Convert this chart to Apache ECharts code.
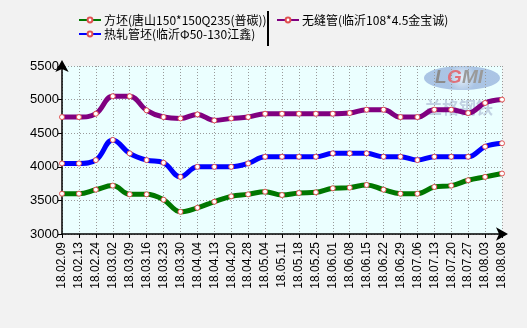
<!DOCTYPE html>
<html>
<head>
<meta charset="utf-8">
<script src="https://cdn.jsdelivr.net/npm/echarts@6/dist/echarts.min.js"></script>
<style>
  html, body { margin: 0; padding: 0; background: #f2f2f2; }
  #chart { width: 527px; height: 328px; }
</style>
</head>
<body>
<div id="chart"></div>
<script>
// Weekly price dates
var categories = ['18.02.09','18.02.13','18.02.24','18.03.02','18.03.09','18.03.16','18.03.23','18.03.30',
  '18.04.04','18.04.13','18.04.20','18.04.28','18.05.04','18.05.11','18.05.18','18.05.25','18.06.01',
  '18.06.08','18.06.15','18.06.22','18.06.29','18.07.06','18.07.13','18.07.20','18.07.27','18.08.03','18.08.08'];

// Series names
var nameBillet = '方坯(唐山150*150Q235(普碳))';
var nameTubeBillet = '热轧管坯(临沂Φ50-130江鑫)';
var nameSeamless = '无缝管(临沂108*4.5金宝诚)';

// Prices (yuan/ton)
var billet = [3600,3600,3660,3720,3590,3590,3510,3330,3390,3480,3560,3590,3630,3580,3610,3620,3680,3690,
  3730,3660,3600,3600,3700,3720,3800,3850,3900];
var tubeBillet = [4050,4050,4100,4400,4200,4100,4060,3850,4000,4000,4000,4050,4150,4150,4150,4150,4200,4200,
  4200,4150,4150,4100,4150,4150,4150,4300,4350];
var seamless = [4740,4740,4790,5050,5050,4840,4740,4720,4780,4690,4720,4740,4790,4790,4790,4790,4790,4800,
  4850,4850,4740,4740,4850,4850,4800,4950,5000];

// Y axis range and step
var yMin = 3000, yMax = 5500, yStep = 500;

var chart = echarts.init(document.getElementById('chart'), null, { renderer: 'canvas' });

function lineSeries(name, data, color) {
  return {
    name: name,
    type: 'line',
    data: data,
    smooth: 0.4,
    symbol: 'circle',
    symbolSize: 5,
    showAllSymbol: true,
    lineStyle: { color: color, width: 5 },
    itemStyle: { color: '#ffffff', borderColor: '#e05050', borderWidth: 1 },
    emphasis: { disabled: true },
    z: 3
  };
}

var legendText = { fontFamily: '"Noto Sans CJK SC", sans-serif', fontSize: 12, color: '#000', padding: [0, 0, 0, -2] };
var gridLine = { show: true, lineStyle: { color: '#9a9a9a', type: [1, 2], width: 1 } };

chart.setOption({
  animation: false,
  backgroundColor: '#f2f2f2',
  color: ['#007700', '#0000ff', '#800080'],
  legend: [
    {
      data: [nameBillet, nameTubeBillet],
      orient: 'vertical',
      left: 73, top: 9,
      itemWidth: 22, itemHeight: 6, itemGap: 2,
      textStyle: legendText
    },
    {
      data: [nameSeamless],
      orient: 'vertical',
      left: 271, top: 9,
      itemWidth: 22, itemHeight: 6,
      textStyle: legendText
    }
  ],
  grid: { left: 62, right: 25, top: 66, bottom: 94, show: true, backgroundColor: '#ebffff', borderWidth: 0 },
  xAxis: {
    type: 'category',
    data: categories,
    boundaryGap: false,
    axisLine: { lineStyle: { color: '#000', width: 1.5 }, symbol: ['none', 'arrow'], symbolSize: [10, 12], symbolOffset: [0, 6] },
    axisTick: { show: true, alignWithLabel: true, length: 4, lineStyle: { color: '#000' } },
    axisLabel: { rotate: 90, fontFamily: '"Liberation Sans", Arial, sans-serif', fontSize: 12, color: '#000', margin: 8, interval: 0 },
    splitLine: gridLine
  },
  yAxis: {
    type: 'value',
    min: yMin, max: yMax, interval: yStep,
    axisLine: { show: true, lineStyle: { color: '#000', width: 1.5 }, symbol: ['none', 'arrow'], symbolSize: [10, 12], symbolOffset: [0, 6] },
    axisTick: { show: true, length: 4, lineStyle: { color: '#000' } },
    axisLabel: { fontFamily: '"Liberation Sans", Arial, sans-serif', fontSize: 13, color: '#000', margin: 3,
      formatter: function (v) { return String(v); } },
    splitLine: gridLine
  },
  graphic: [
    // legend column separator
    { type: 'line', shape: { x1: 268, y1: 11, x2: 268, y2: 46 }, style: { stroke: '#000', lineWidth: 2 }, z: 10 },
    // watermark logo
    {
      type: 'group', left: 424, top: 66, z: 1, silent: true,
      children: [
        { type: 'ellipse', shape: { cx: 39, cy: 12, rx: 38, ry: 12 },
          style: { fill: new echarts.graphic.RadialGradient(0.5, 0.5, 0.6, [
            { offset: 0, color: '#e4ecf8' }, { offset: 1, color: '#9ab6de' }]), opacity: 0.8 } },
        { type: 'text', x: 12, y: 2, style: { text: 'L', font: 'italic bold 19px "Liberation Sans"', fill: '#8c8c8c' } },
        { type: 'text', x: 24, y: 2, style: { text: 'G', font: 'italic bold 19px "Liberation Sans"', fill: '#e0707a' } },
        { type: 'text', x: 39, y: 2, style: { text: 'MI', font: 'italic bold 19px "Liberation Sans"', fill: '#9a9a9a' } },
        { type: 'text', x: 2, y: 33, style: { text: '兰格钢铁', font: 'bold 17px "Noto Sans CJK SC"', fill: '#b3c3da', opacity: 0.75 } }
      ]
    }
  ],
  series: [
    lineSeries(nameBillet, billet, '#007700'),
    lineSeries(nameTubeBillet, tubeBillet, '#0000ff'),
    lineSeries(nameSeamless, seamless, '#800080')
  ]
});
</script>
</body>
</html>
